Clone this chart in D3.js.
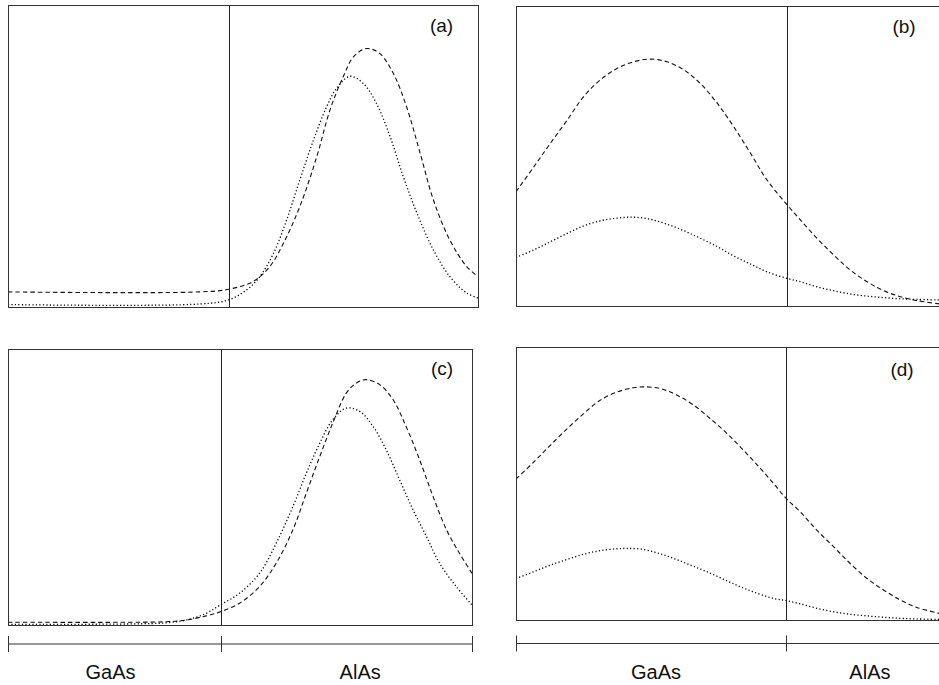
<!DOCTYPE html>
<html>
<head>
<meta charset="utf-8">
<script src="https://cdn.jsdelivr.net/npm/d3@7"></script>
<style>
  body { margin: 0; background: #fff; }
  text { font-family: "Liberation Sans", Arial, sans-serif; fill: #111; }
</style>
</head>
<body>
<main></main>
<script>
// position across each panel (0..100) and relative amplitude (0..1 of panel height)
const aDashX = [0, 40.9, 47.0, 52.2, 55.7, 58.6, 62.1, 65.7, 68.5, 71.3, 73.5, 76.3, 79.1, 82.0, 84.8, 87.7, 90.5, 94.0, 97.6, 100];
const aDashY = [0.050, 0.050, 0.059, 0.085, 0.134, 0.211, 0.333, 0.498, 0.652, 0.762, 0.828, 0.856, 0.839, 0.773, 0.663, 0.509, 0.355, 0.222, 0.134, 0.101];
const aDotX = [0, 40.9, 47.0, 50.8, 53.6, 56.5, 59.3, 62.1, 65.0, 67.8, 69.9, 72.8, 75.6, 78.4, 81.3, 84.1, 87.0, 90.5, 94.0, 97.6, 100];
const aDotY = [0.008, 0.010, 0.024, 0.057, 0.101, 0.178, 0.289, 0.421, 0.553, 0.663, 0.724, 0.764, 0.740, 0.674, 0.564, 0.432, 0.311, 0.189, 0.101, 0.046, 0.030];

const bX = [0, 3.8, 7.3, 10.9, 14.4, 17.9, 21.5, 25.0, 28.6, 32.1, 35.7, 39.2, 42.8, 46.3, 49.9, 53.4, 57.7, 60.5, 64.0, 67.6, 71.1, 74.7, 78.2, 81.8, 85.3, 90.1];
const bDashY = [0.381, 0.464, 0.542, 0.620, 0.698, 0.753, 0.792, 0.814, 0.823, 0.814, 0.787, 0.742, 0.676, 0.598, 0.509, 0.420, 0.337, 0.287, 0.226, 0.170, 0.120, 0.081, 0.051, 0.031, 0.018, 0.007];
const bDotY = [0.162, 0.187, 0.214, 0.242, 0.267, 0.284, 0.293, 0.296, 0.289, 0.273, 0.251, 0.226, 0.198, 0.167, 0.140, 0.114, 0.092, 0.081, 0.064, 0.051, 0.040, 0.033, 0.028, 0.024, 0.022, 0.020];

const cDashX = [0, 26.9, 34.1, 38.4, 42.7, 45.8, 49.9, 54.2, 57.8, 61.4, 64.3, 67.2, 70.0, 72.9, 75.1, 77.2, 80.1, 83.0, 85.8, 88.7, 91.6, 94.5, 97.3, 100];
const cDashY = [0.010, 0.010, 0.012, 0.018, 0.033, 0.048, 0.079, 0.139, 0.224, 0.345, 0.478, 0.611, 0.732, 0.840, 0.877, 0.889, 0.871, 0.816, 0.719, 0.599, 0.466, 0.345, 0.260, 0.187];
const cDotX = [0, 26.9, 34.1, 38.4, 42.7, 45.8, 49.9, 54.2, 57.8, 61.4, 64.3, 67.2, 70.0, 72.9, 75.8, 78.7, 81.5, 84.4, 87.3, 90.2, 93.0, 96.6, 100];
const cDotY = [0.002, 0.004, 0.008, 0.018, 0.042, 0.073, 0.115, 0.187, 0.296, 0.429, 0.550, 0.659, 0.744, 0.786, 0.774, 0.719, 0.635, 0.526, 0.417, 0.320, 0.224, 0.139, 0.073];

const dDashX = [0, 3.8, 7.3, 10.9, 14.4, 17.9, 21.5, 25.0, 27.2, 30.7, 34.3, 37.8, 41.3, 44.9, 48.4, 52.0, 54.8, 57.5, 60.5, 64.0, 67.6, 71.1, 74.7, 78.2, 81.8, 85.3, 90.1];
const dDashY = [0.516, 0.579, 0.640, 0.701, 0.756, 0.805, 0.835, 0.851, 0.854, 0.848, 0.823, 0.787, 0.738, 0.683, 0.622, 0.555, 0.500, 0.445, 0.396, 0.329, 0.268, 0.207, 0.152, 0.110, 0.073, 0.046, 0.024];
const dDotX = [0, 3.8, 7.3, 10.9, 14.4, 17.9, 21.5, 23.6, 26.5, 30.0, 33.5, 37.1, 40.6, 44.2, 47.7, 51.3, 54.8, 57.5, 60.5, 64.0, 67.6, 71.1, 74.7, 78.2, 81.8, 85.3, 90.1];
const dDotY = [0.152, 0.177, 0.201, 0.222, 0.241, 0.254, 0.261, 0.262, 0.260, 0.246, 0.226, 0.201, 0.177, 0.149, 0.122, 0.098, 0.079, 0.071, 0.059, 0.043, 0.030, 0.021, 0.015, 0.010, 0.006, 0.004, 0.002];

// GaAs / AlAs interface position in each panel
const interfaces = { a: 47.0, b: 57.7, c: 45.8, d: 57.5 };
const layerNames = ["GaAs", "AlAs"];

const zip = (xs, ys) => xs.map((x, i) => ({ x: x, y: ys[i] }));

const panels = [
  { id: "a", left: 8, top: 5, width: 470, height: 302, labelDx: 433.5, labelDy: 27,
    dash: zip(aDashX, aDashY), dot: zip(aDotX, aDotY) },
  { id: "b", left: 516, top: 6, width: 470, height: 300, labelDx: 388, labelDy: 27,
    dash: zip(bX, bDashY), dot: zip(bX, bDotY) },
  { id: "c", left: 8, top: 349, width: 464, height: 276, labelDx: 434, labelDy: 26,
    dash: zip(cDashX, cDashY), dot: zip(cDotX, cDotY), axis: { y: 644, labels: [22.1, 75.9] } },
  { id: "d", left: 516, top: 347, width: 470, height: 273, labelDx: 386, labelDy: 29,
    dash: zip(dDashX, dDashY), dot: zip(dDotX, dDotY), axis: { y: 643.5, labels: [29.8, 75.3] } }
];

const svg = d3.select("main")
  .append("svg")
  .attr("width", 939)
  .attr("height", 685);

panels.forEach(p => {
  const x = d3.scaleLinear().domain([0, 100]).range([p.left, p.left + p.width]);
  const y = d3.scaleLinear().domain([0, 1]).range([p.top + p.height, p.top]);
  const g = svg.append("g").attr("id", "panel-" + p.id);

  g.append("clipPath")
    .attr("id", "clip-" + p.id)
    .append("rect")
    .attr("x", p.left)
    .attr("y", p.top)
    .attr("width", p.width)
    .attr("height", p.height);

  const line = d3.line()
    .x(d => x(d.x))
    .y(d => y(d.y))
    .curve(d3.curveCatmullRom.alpha(0.5));

  g.append("path")
    .datum(p.dash)
    .attr("clip-path", "url(#clip-" + p.id + ")")
    .attr("d", line)
    .attr("fill", "none")
    .attr("stroke", "#111")
    .attr("stroke-width", 1.1)
    .attr("stroke-dasharray", "4.5,3");

  g.append("path")
    .datum(p.dot)
    .attr("clip-path", "url(#clip-" + p.id + ")")
    .attr("d", line)
    .attr("fill", "none")
    .attr("stroke", "#000")
    .attr("stroke-width", 1.3)
    .attr("stroke-dasharray", "1.2,2.3");

  // frame
  g.append("rect")
    .attr("x", p.left + 0.5)
    .attr("y", p.top + 0.5)
    .attr("width", p.width)
    .attr("height", p.height)
    .attr("fill", "none")
    .attr("stroke", "#333")
    .attr("stroke-width", 1);

  // interface line
  g.append("line")
    .attr("x1", Math.round(x(interfaces[p.id])) + 0.5)
    .attr("x2", Math.round(x(interfaces[p.id])) + 0.5)
    .attr("y1", p.top)
    .attr("y2", p.top + p.height)
    .attr("stroke", "#222")
    .attr("stroke-width", 1);

  g.append("text")
    .attr("x", p.left + p.labelDx)
    .attr("y", p.top + p.labelDy)
    .attr("text-anchor", "middle")
    .style("font-size", "19px")
    .text("(" + p.id + ")");

  if (p.axis) {
    const ax = g.append("g").attr("class", "layer-axis");
    const ticks = [0, interfaces[p.id], 100];
    ax.append("line")
      .attr("x1", x(0))
      .attr("x2", x(100))
      .attr("y1", p.axis.y)
      .attr("y2", p.axis.y)
      .attr("stroke", "#333");
    ax.selectAll(".tick")
      .data(ticks)
      .enter()
      .append("line")
      .attr("class", "tick")
      .attr("x1", d => Math.round(x(d)) + 0.5)
      .attr("x2", d => Math.round(x(d)) + 0.5)
      .attr("y1", p.axis.y - 8)
      .attr("y2", p.axis.y + 8)
      .attr("stroke", "#333");
    ax.selectAll(".layer-label")
      .data(p.axis.labels)
      .enter()
      .append("text")
      .attr("class", "layer-label")
      .attr("x", d => x(d))
      .attr("y", 679)
      .attr("text-anchor", "middle")
      .style("font-size", "20px")
      .text((d, i) => layerNames[i]);
  }
});
</script>
</body>
</html>
